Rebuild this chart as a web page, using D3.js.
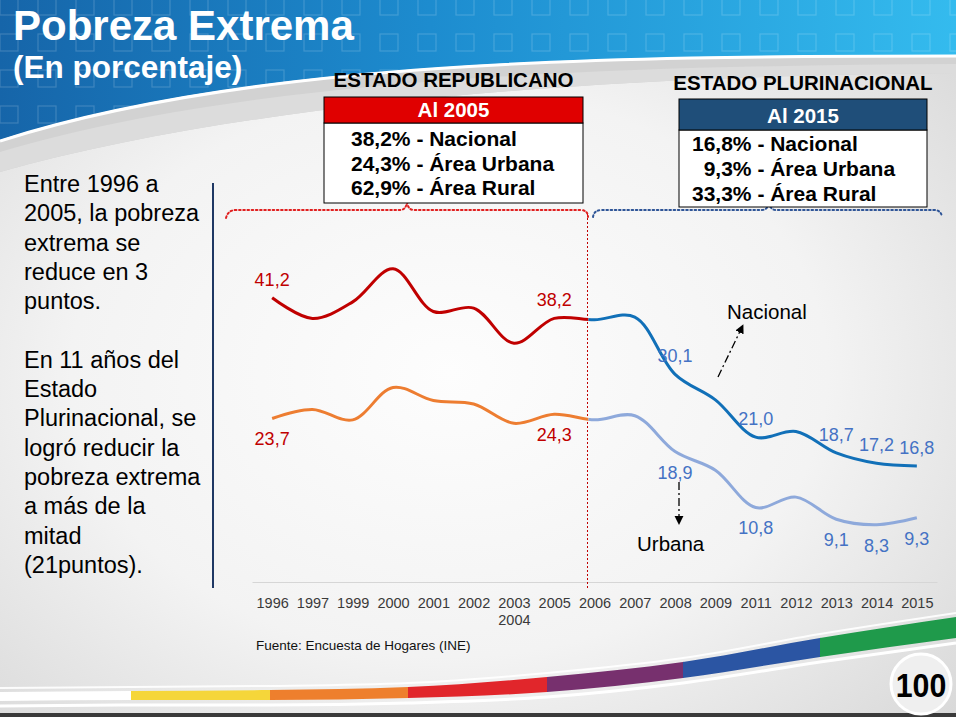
<!DOCTYPE html>
<html><head><meta charset="utf-8">
<script src="https://cdn.jsdelivr.net/npm/d3@7/dist/d3.min.js"></script>
<style>html,body{margin:0;padding:0;background:#f2f2f2}svg{display:block}text{font-family:"Liberation Sans",Arial,sans-serif}</style>
</head><body>
<svg id="c" width="956" height="717"></svg>
<script>
// ---------- DATA ----------
const categories = ["1996","1997","1999","2000","2001","2002","2003-2004","2005","2006","2007","2008","2009","2011","2012","2013","2014","2015"];
const tickLabels = [["1996"],["1997"],["1999"],["2000"],["2001"],["2002"],["2003","2004"],["2005"],["2006"],["2007"],["2008"],["2009"],["2011"],["2012"],["2013"],["2014"],["2015"]];
const nacional = [41.2, 38.2, 40.6, 45.4, 39.2, 39.7, 34.6, 38.2, 38.0, 38.4, 30.1, 26.4, 21.0, 21.8, 18.7, 17.2, 16.8];
const urbana   = [23.7, 25.0, 23.5, 28.2, 26.3, 25.8, 23.0, 24.3, 23.5, 24.1, 18.9, 16.2, 10.8, 12.3, 9.1, 8.3, 9.3];
const labeledYears = ["1996","2005","2008","2011","2013","2014","2015"];
const splitYear = "2006";
const title = "Pobreza Extrema";
const subtitle = "(En porcentaje)";
const sideText = ["Entre 1996 a","2005, la pobreza","extrema se","reduce en 3","puntos.","","En 11 años del","Estado","Plurinacional, se","logró reducir la","pobreza extrema","a más de la","mitad","(21puntos)."];
const boxRepTitle = "ESTADO REPUBLICANO", boxRepHeader = "Al 2005";
const boxRepNums = ["38,2%","24,3%","62,9%"], boxRepNames = [" - Nacional"," - Área Urbana"," - Área Rural"];
const boxPluTitle = "ESTADO PLURINACIONAL", boxPluHeader = "Al 2015";
const boxPluNums = ["16,8%","9,3%","33,3%"], boxPluNames = [" - Nacional"," - Área Urbana"," - Área Rural"];
const source = "Fuente: Encuesta de Hogares (INE)";
const pageNumber = "100";
const rainbow = ["#F5D63A","#EE7F2D","#E1262B","#77306E","#2B55A3","#1F9A4B"];

// ---------- SETUP ----------
const W = 956, H = 717;
const svg = d3.select("#c");
const defs = svg.append("defs");

const rg = defs.append("radialGradient").attr("id","bg").attr("cx","47%").attr("cy","52%").attr("r","72%");
rg.append("stop").attr("offset","0").attr("stop-color","#fdfdfd");
rg.append("stop").attr("offset","0.55").attr("stop-color","#f3f3f3");
rg.append("stop").attr("offset","1").attr("stop-color","#d8d8d8");
svg.append("rect").attr("width",W).attr("height",H).attr("fill","url(#bg)");

// header
const hg = defs.append("linearGradient").attr("id","hg").attr("x1","0").attr("x2","1").attr("y1","0").attr("y2","0");
hg.append("stop").attr("offset","0").attr("stop-color","#1665a9");
hg.append("stop").attr("offset","0.45").attr("stop-color","#1d8ccf");
hg.append("stop").attr("offset","1").attr("stop-color","#34bbee");
const headerD = "M0,0 H956 V55 C600,55 250,60 0,140 Z";
defs.append("clipPath").attr("id","hclip").append("path").attr("d",headerD);
svg.append("path").attr("d","M0,140 C250,60 600,55 956,55 V73 C600,76 250,102 0,172 Z").attr("fill","#d2d2d2");
svg.append("path").attr("d","M0,152 C250,78 600,66 956,64 V73 C600,76 250,102 0,172 Z").attr("fill","#dcdcdc");
svg.append("path").attr("d",headerD).attr("fill","url(#hg)");
const pat = defs.append("pattern").attr("id","sq").attr("patternUnits","userSpaceOnUse").attr("width",38).attr("height",36).attr("x",-4).attr("y",-6);
pat.append("rect").attr("x",4).attr("y",4).attr("width",18).attr("height",17).attr("fill","none").attr("stroke","rgba(255,255,255,0.16)").attr("stroke-width",1.2);
svg.append("rect").attr("width",W).attr("height",142).attr("fill","url(#sq)").attr("clip-path","url(#hclip)");
svg.append("path").attr("d","M0,141 C250,61 600,56 956,56").attr("fill","none").attr("stroke","#ffffff").attr("stroke-width",3);

svg.append("text").attr("x",13).attr("y",40).attr("fill","#fff").attr("font-weight","bold").attr("font-size",42).text(title);
svg.append("text").attr("x",13).attr("y",77.5).attr("fill","#fff").attr("font-weight","bold").attr("font-size",31.5).text(subtitle);

// side text
svg.append("line").attr("x1",213).attr("x2",213).attr("y1",183).attr("y2",588).attr("stroke","#1F3864").attr("stroke-width",2);
const st = svg.append("text").attr("x",24).attr("y",192).attr("font-size",23.5).attr("fill","#000");
sideText.forEach((t,i)=>{ st.append("tspan").attr("x",24).attr("y",192 + i*29.3).text(t); });

// ---------- SCALES ----------
const x = d3.scalePoint().domain(categories).range([252, 937]).padding(0.5);
const y = d3.scaleLinear().domain([0, 50]).range([582, 237]);
const splitX = x(splitYear) - 6;

// x axis
const ax = svg.append("g").attr("transform","translate(0,582)")
  .call(d3.axisBottom(x).tickSize(0).tickSizeOuter(0).tickPadding(0));
ax.select(".domain").attr("stroke","#d6d6d6").attr("stroke-width",1);
ax.selectAll(".tick text").each(function(d,i){
  const t = d3.select(this).text("").attr("y",26).attr("dy",null).attr("font-size",14.5).attr("fill","#3a3a3a").attr("font-family",'"Liberation Sans",Arial,sans-serif');
  tickLabels[i].forEach((s,k)=> t.append("tspan").attr("x",0).attr("y",26 + k*17).text(s));
});

// divider
svg.append("line").attr("x1",splitX - 1).attr("x2",splitX - 1).attr("y1",214).attr("y2",589)
  .attr("stroke","#C00000").attr("stroke-width",1).attr("stroke-dasharray","2,2");

// braces
svg.append("path").attr("d","M226,218 Q228,210 236,210 L400,210 Q406,210 407,202 Q408,210 414,210 L580,210 Q588,210 588,217")
  .attr("fill","none").attr("stroke","#E02020").attr("stroke-width",2).attr("stroke-dasharray","1.6,2.6").attr("stroke-linecap","round");
svg.append("path").attr("d","M593,217 Q594,210 602,210 L762,210 Q768,210 769,202 Q770,210 776,210 L934,210 Q941,210 942,217")
  .attr("fill","none").attr("stroke","#2F5597").attr("stroke-width",2).attr("stroke-dasharray","1.6,2.6").attr("stroke-linecap","round");

// boxes
function box(x0, x1, titleY, hTop, hBot, bBot, titleTxt, headTxt, headCol, headBase, nums, names, textX, firstBase, lineH){
  svg.append("text").attr("x",(x0+x1)/2).attr("y",titleY).attr("text-anchor","middle").attr("font-weight","bold").attr("font-size",20.5).attr("fill","#000").text(titleTxt);
  svg.append("rect").attr("x",x0).attr("y",hBot).attr("width",x1-x0).attr("height",bBot-hBot).attr("fill","#fff").attr("stroke","#000").attr("stroke-width",1);
  svg.append("rect").attr("x",x0).attr("y",hTop).attr("width",x1-x0).attr("height",hBot-hTop).attr("fill",headCol).attr("stroke","#000").attr("stroke-width",1);
  svg.append("text").attr("x",(x0+x1)/2).attr("y",headBase).attr("text-anchor","middle").attr("font-weight","bold").attr("font-size",20.5).attr("fill","#fff").text(headTxt);
  const tmp = svg.append("text").attr("font-weight","bold").attr("font-size",21);
  const ws = nums.map(n=>{tmp.text(n); return tmp.node().getComputedTextLength();});
  tmp.remove();
  const mw = d3.max(ws);
  nums.forEach((n,i)=>{
    const t = svg.append("text").attr("x",textX + (mw-ws[i])).attr("y",firstBase + i*lineH).attr("font-weight","bold").attr("font-size",21).attr("fill","#000");
    t.append("tspan").text(n); t.append("tspan").text(names[i]);
  });
}
box(324, 583, 87, 97, 123, 203, boxRepTitle, boxRepHeader, "#E00000", 117, boxRepNums, boxRepNames, 351, 146, 24.5);
box(679, 927, 89.5, 99, 130, 207, boxPluTitle, boxPluHeader, "#1F4E79", 123, boxPluNums, boxPluNames, 692, 151, 25);

// ---------- LINES ----------
defs.append("clipPath").attr("id","cl").append("rect").attr("x",0).attr("y",0).attr("width",splitX).attr("height",H);
defs.append("clipPath").attr("id","cr").append("rect").attr("x",splitX).attr("y",0).attr("width",W-splitX).attr("height",H);
const line = d3.line().x((d,i)=>x(categories[i])).y(d=>y(d)).curve(d3.curveCatmullRom.alpha(0.5));
const series = [
  {vals: urbana, left:"#ED7D31", right:"#8EA9DB", dy: 27},
  {vals: nacional, left:"#C00000", right:"#1170B8", dy: -12}
];
series.forEach(s=>{
  svg.append("path").attr("d",line(s.vals)).attr("fill","none").attr("stroke",s.left).attr("stroke-width",3).attr("clip-path","url(#cl)");
  svg.append("path").attr("d",line(s.vals)).attr("fill","none").attr("stroke",s.right).attr("stroke-width",3).attr("clip-path","url(#cr)");
  categories.forEach((c,i)=>{
    if(!labeledYears.includes(c)) return;
    const before = x(c) < splitX;
    svg.append("text").attr("x",x(c)).attr("y",y(s.vals[i]) + s.dy).attr("text-anchor","middle")
      .attr("font-size",18).attr("fill", before ? "#C00000" : "#4472C4")
      .text(d3.format(".1f")(s.vals[i]).replace(".",","));
  });
});

// annotations
defs.append("marker").attr("id","arr").attr("viewBox","0 0 10 10").attr("refX",9).attr("refY",5)
  .attr("markerWidth",7).attr("markerHeight",7).attr("orient","auto")
  .append("path").attr("d","M0,0 L10,5 L0,10 z").attr("fill","#000");
svg.append("line").attr("x1",718).attr("y1",377).attr("x2",743).attr("y2",325).attr("stroke","#000").attr("stroke-width",1.3)
  .attr("stroke-dasharray","8,3,2,3").attr("marker-end","url(#arr)");
svg.append("text").attr("x",727).attr("y",319).attr("font-size",20.5).attr("fill","#000").text("Nacional");
svg.append("line").attr("x1",679).attr("y1",482).attr("x2",679).attr("y2",524).attr("stroke","#000").attr("stroke-width",1.3)
  .attr("stroke-dasharray","8,3,2,3").attr("marker-end","url(#arr)");
svg.append("text").attr("x",637).attr("y",551).attr("font-size",20.5).attr("fill","#000").text("Urbana");

// source
svg.append("text").attr("x",256).attr("y",650).attr("font-size",13.5).attr("fill","#111").text(source);

// ---------- FOOTER SWOOSH ----------
const topPts = [[0,692],[131,691],[270,690],[408,687],[547,677],[683,662],[820,638],[956,617]];
const botPts = [[0,701],[131,700],[270,700],[408,698],[547,692],[683,678],[820,657],[956,638]];
const area = d3.area().x(d=>d[0]).y0(d=>d[1]).y1((d,i)=>botPts[i][1]).curve(d3.curveMonotoneX);
const bandD = area(topPts);
svg.append("path").attr("d", d3.line().curve(d3.curveMonotoneX)(botPts.map(p=>[p[0],p[1]+5]))).attr("fill","none").attr("stroke","#fff").attr("stroke-width",3);
svg.append("path").attr("d", d3.line().curve(d3.curveMonotoneX)(topPts.map(p=>[p[0],p[1]-4]))).attr("fill","none").attr("stroke","#fff").attr("stroke-width",2).attr("opacity",0.9);
const bounds = [0,131,270,408,547,683,820,956];
["#ffffff"].concat(rainbow).forEach((col,i)=>{
  const id = "seg"+i;
  defs.append("clipPath").attr("id",id).append("rect").attr("x",bounds[i]).attr("y",580).attr("width",bounds[i+1]-bounds[i]+0.5).attr("height",140);
  svg.append("path").attr("d",bandD).attr("fill",col).attr("clip-path",`url(#${id})`);
});
svg.append("rect").attr("x",0).attr("y",713).attr("width",W).attr("height",4).attr("fill","#3a3a3a");
svg.append("circle").attr("cx",921).attr("cy",684).attr("r",30).attr("fill","#efefef").attr("stroke","#fff").attr("stroke-width",3);
svg.append("text").attr("x",921).attr("y",697).attr("text-anchor","middle").attr("font-weight","bold").attr("font-size",33)
  .attr("transform","translate(921,0) scale(0.92,1) translate(-921,0)").attr("fill","#000").text(pageNumber);
</script>
</body></html>
